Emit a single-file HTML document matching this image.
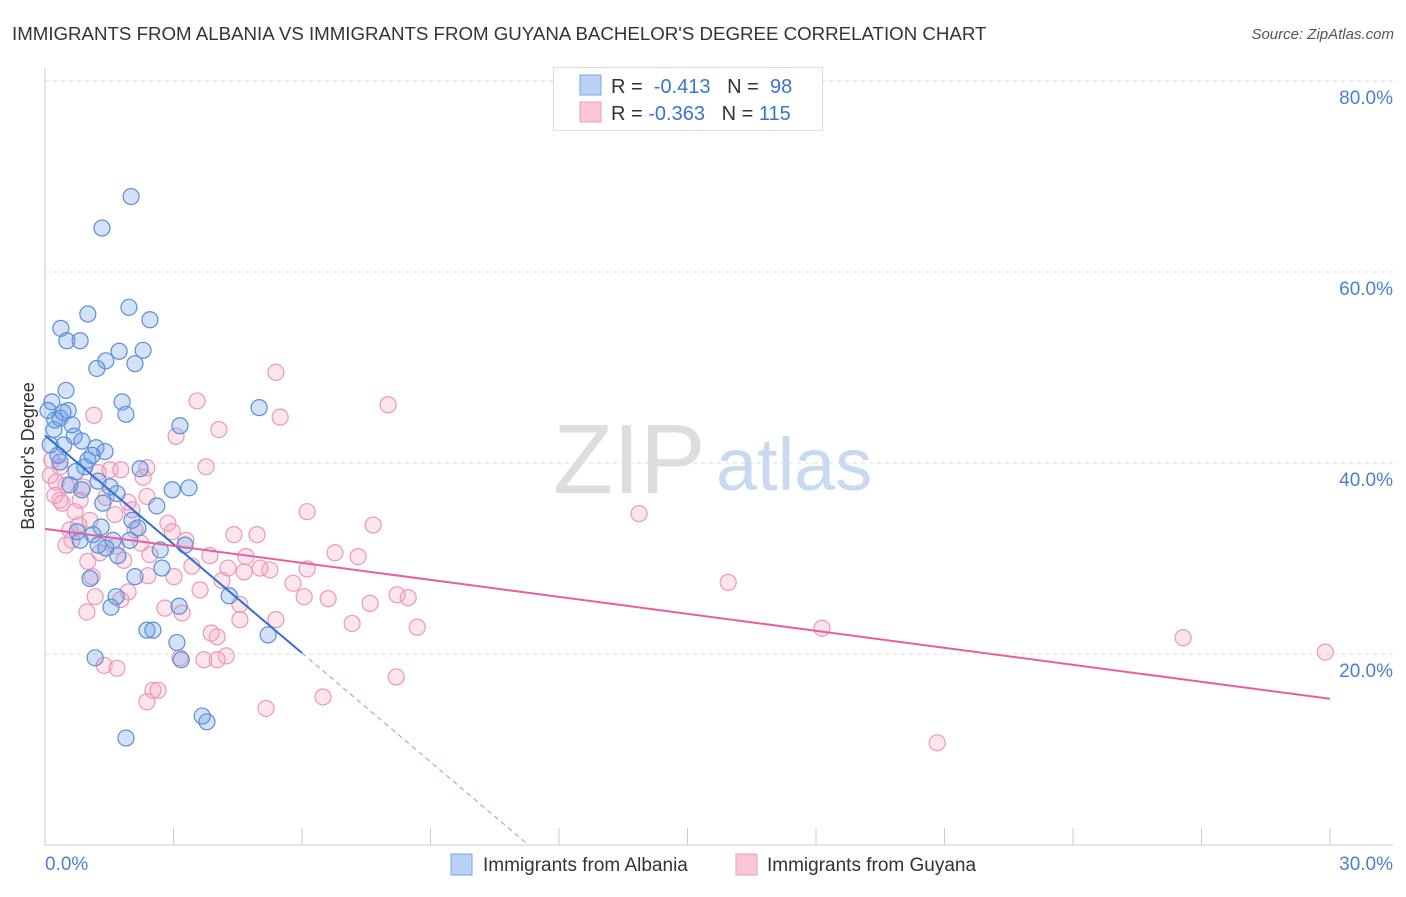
<!DOCTYPE html>
<html><head><meta charset="utf-8">
<style>
body{margin:0;background:#fff;font-family:"Liberation Sans",sans-serif;}
svg text{font-family:"Liberation Sans",sans-serif;}
</style></head>
<body>
<svg id="chart" width="1406" height="892" xmlns="http://www.w3.org/2000/svg">
<text x="12" y="40" font-size="18.7" fill="#333">IMMIGRANTS FROM ALBANIA VS IMMIGRANTS FROM GUYANA BACHELOR'S DEGREE CORRELATION CHART</text>
<text x="1394" y="39" font-size="15" fill="#555" font-style="italic" text-anchor="end">Source: ZipAtlas.com</text>
<g>
<text x="553" y="493" font-size="98" fill="#ddd" font-family="Liberation Serif">ZIP</text>
<text x="716" y="490" font-size="74" fill="#c8daf2">atlas</text>
</g>
<g id="grid"></g>
<g id="axes"></g>
<g id="pts"></g>
<g id="trend"></g>
<text x="34" y="456" font-size="18" fill="#333" text-anchor="middle" transform="rotate(-90 34 456)">Bachelor's Degree</text>
<g>
<rect x="553.5" y="67.5" width="269" height="63" fill="#fff" stroke="#ddd"/>
<rect x="580" y="75" width="21" height="20" fill="#b8d1f5" stroke="#7aa6e6"/>
<rect x="580" y="102" width="21" height="20" fill="#fac6d6" stroke="#ee9ab7"/>
<text x="611" y="93" font-size="20" fill="#333">R = <tspan fill="#3a75d0">&#160;-0.413</tspan>&#160;&#160;&#160;N = <tspan fill="#3a75d0">&#160;98</tspan></text>
<text x="611" y="120" font-size="20" fill="#333">R = <tspan fill="#3a75d0">-0.363</tspan>&#160;&#160;&#160;N = <tspan fill="#3a75d0">115</tspan></text>
</g>
<g>
<rect x="451" y="854" width="21" height="21" fill="#b8d1f5" stroke="#7aa6e6"/>
<text x="483" y="871" font-size="19" fill="#333">Immigrants from Albania</text>
<rect x="736" y="854" width="21" height="21" fill="#fac6d6" stroke="#ee9ab7"/>
<text x="767" y="871" font-size="19" fill="#333">Immigrants from Guyana</text>
</g>
</svg>
<script>
const yTicks=[20,40,60,80];
const yTickLabels=["20.0%","40.0%","60.0%","80.0%"];
const xTicks=[0,3,6,9,12,15,18,21,24,27,30];
const xEndLabels=["0.0%","30.0%"];
const albaniaX=[2.01,1.33,0.37,1.00,1.96,2.45,0.51,0.82,2.29,1.73,1.42,2.10,1.21,0.49,0.16,1.80,1.89,0.54,0.35,3.15,5.00,0.21,0.68,0.86,1.19,0.12,1.40,1.00,0.35,2.22,0.93,1.24,2.97,3.36,0.58,0.86,1.68,1.35,2.61,2.03,1.31,2.17,1.12,0.82,1.59,0.75,1.42,2.69,3.27,1.70,2.73,1.05,2.10,4.30,1.66,3.13,1.54,2.38,2.52,3.08,5.21,3.18,1.17,3.67,3.78,1.89,0.23,0.42,0.63,0.30,0.72,1.10,1.52,0.07,1.98,1.24,0.44];
const albaniaY=[67.9,64.6,54.1,55.6,56.3,55.0,52.8,52.8,51.8,51.7,50.7,50.4,49.9,47.6,46.4,46.4,45.1,45.5,44.7,43.9,45.8,43.5,42.8,42.3,41.6,41.9,41.2,40.3,40.1,39.4,39.6,38.1,37.2,37.4,37.7,37.2,36.8,35.8,35.5,34.0,33.3,33.2,32.5,31.9,31.9,32.8,31.1,30.9,31.4,30.3,29.0,27.9,28.1,26.1,26.0,25.0,24.9,22.5,22.5,21.2,22.0,19.4,19.6,13.5,12.9,11.2,44.5,45.3,44.0,40.8,39.1,40.8,37.5,45.5,31.9,31.4,41.9];
const guyanaX=[5.39,8.01,5.49,3.55,4.06,3.06,1.14,3.76,2.38,0.16,0.35,1.52,1.77,1.24,2.29,0.26,0.49,0.89,1.42,1.94,2.38,0.40,0.70,2.03,6.12,13.87,7.66,0.79,2.87,4.41,4.95,0.63,1.66,1.28,2.24,3.29,2.97,3.85,4.69,6.77,7.31,1.00,1.84,3.43,4.27,5.02,5.25,6.12,4.65,1.10,2.40,3.01,5.79,4.13,15.95,8.22,8.48,6.05,6.61,7.59,1.17,1.77,1.94,2.80,4.55,3.20,0.98,5.39,7.17,8.69,18.14,26.57,3.88,4.02,4.23,1.38,1.68,3.15,3.71,4.02,29.89,2.52,2.64,2.38,5.16,6.49,8.20,20.83,0.35,0.58,0.49,1.05,0.23,0.82,1.63,2.10,2.45,3.62,4.55,0.12];
const guyanaY=[49.5,46.1,44.8,46.5,43.5,42.8,45.0,39.6,39.5,40.3,39.6,39.3,39.3,39.0,38.5,38.0,37.7,37.5,36.4,35.9,36.5,35.8,34.9,35.1,34.9,34.7,33.5,33.5,33.7,32.5,32.5,31.9,31.3,30.6,31.6,31.9,32.8,30.3,30.2,30.6,30.2,29.7,29.8,29.2,29.0,29.0,28.8,28.9,28.6,28.1,28.2,28.1,27.4,27.7,27.5,26.2,25.9,26.0,25.8,25.3,26.0,25.7,26.5,24.8,25.2,24.3,24.4,23.6,23.2,22.8,22.7,21.7,22.2,21.8,19.8,18.8,18.5,19.6,19.4,19.4,20.2,16.2,16.2,15.0,14.3,15.5,17.6,10.7,36.1,33.0,31.4,34.0,36.6,36.1,34.6,33.0,30.4,26.7,23.6,38.7];
const albaniaTrend=[42.9,-3.8];
const guyanaTrend=[33.1,-0.593];
const albaniaSolidEnd=[6];
const NS="http://www.w3.org/2000/svg";
const X0=45,X1=1330,Y0=845,YT=81;
const sx=v=>X0+(X1-X0)*v/30;
const sy=v=>Y0-(Y0-YT)*v/80;
function mk(tag,attrs,parent){const e=document.createElementNS(NS,tag);for(const k in attrs)e.setAttribute(k,attrs[k]);parent.appendChild(e);return e;}
const grid=document.getElementById('grid'),axes=document.getElementById('axes'),pts=document.getElementById('pts'),trend=document.getElementById('trend');
yTicks.forEach((t,i)=>{
 const l=mk('line',{x1:X0,x2:1393,y1:sy(t),y2:sy(t),stroke:'#ddd','stroke-dasharray':'4 4'},grid);
 
 
 const tx=mk('text',{x:1393,y:sy(t)+23,'font-size':19,fill:'#4a7fd4','text-anchor':'end'},axes);
 tx.textContent=yTickLabels[i];
 
 
});
const la=mk('line',{x1:X0,x2:X0,y1:68,y2:Y0,stroke:'#ccc'},axes);


const lb=mk('line',{x1:X0,x2:1393,y1:Y0,y2:Y0,stroke:'#ccc'},axes);


xTicks.forEach(t=>{
 const l=mk('line',{x1:sx(t),x2:sx(t),y1:Y0,y2:Y0-17,stroke:'#ccc'},axes);
 
 
});
const xl0=mk('text',{x:X0,y:870,'font-size':19,fill:'#4a7fd4'},axes);xl0.textContent=xEndLabels[0];


const xl1=mk('text',{x:1393,y:870,'font-size':19,fill:'#4a7fd4','text-anchor':'end'},axes);xl1.textContent=xEndLabels[1];


function drawPts(xs,ys,fill,stroke,name){
 xs.forEach((x,i)=>{
  const c=mk('circle',{cx:sx(x),cy:sy(ys[i]),r:8,fill:fill,stroke:stroke,'stroke-width':1.2},pts);
  
  
 });
}
drawPts(guyanaX,guyanaY,'rgba(245,160,190,0.28)','#eb98b6','guyana-point');
drawPts(albaniaX,albaniaY,'rgba(110,160,230,0.3)','#5a8ed8','albania-point');
const ax2=-albaniaTrend[0]/albaniaTrend[1];
const f=(tr,x)=>tr[0]+tr[1]*x;
const b1=mk('line',{x1:sx(0),y1:sy(f(albaniaTrend,0)),x2:sx(albaniaSolidEnd[0]),y2:sy(f(albaniaTrend,albaniaSolidEnd[0])),stroke:'#2f6fd6','stroke-width':2},trend);


const b2=mk('line',{x1:sx(albaniaSolidEnd[0]),y1:sy(f(albaniaTrend,albaniaSolidEnd[0])),x2:sx(ax2),y2:sy(0),stroke:'#7aa6e6','stroke-width':1,'stroke-dasharray':'5 4'},trend);


const p1=mk('line',{x1:sx(0),y1:sy(f(guyanaTrend,0)),x2:sx(30),y2:sy(f(guyanaTrend,30)),stroke:'#e8609a','stroke-width':2},trend);


</script>
</body></html>
